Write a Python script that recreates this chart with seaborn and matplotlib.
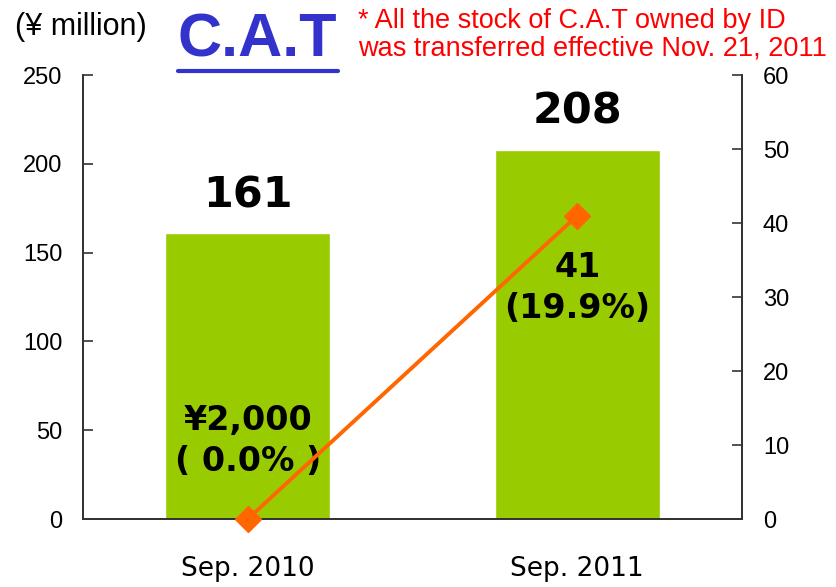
import matplotlib
matplotlib.use("Agg")
import matplotlib.pyplot as plt
import seaborn as sns
import pandas as pd
from matplotlib.lines import Line2D

# chart data
periods = ["Sep. 2010", "Sep. 2011"]
sales = [161, 208]              # left axis, ¥ million
income = [0, 41]                # right axis
income_labels = ["¥2,000\n( 0.0% )", "41\n(19.9%)"]
left_ticks = [0, 50, 100, 150, 200, 250]
right_ticks = [0, 10, 20, 30, 40, 50, 60]

df = pd.DataFrame({"period": periods, "sales": sales, "income": income})

sns.set_style("white")
narrow = ["Liberation Sans Narrow", "Liberation Sans", "DejaVu Sans"]
plt.rcParams["font.family"] = ["DejaVu Sans"]
plt.rcParams["text.color"] = "black"
plt.rcParams["xtick.color"] = "#333333"
plt.rcParams["ytick.color"] = "#333333"
plt.rcParams["xtick.labelcolor"] = "black"
plt.rcParams["ytick.labelcolor"] = "black"

fig = plt.figure(figsize=(8.36, 5.87), dpi=100)
ax = fig.add_axes([83 / 836, 1 - 519 / 587, 659 / 836, 444 / 587])

sns.barplot(data=df, x="period", y="sales", color="#99CC00", width=0.5,
            saturation=1, ax=ax)
ax.set_xlim(-0.5, 1.5)
ax.set_ylim(0, 250)
ax.set_yticks(left_ticks)
ax.set_xlabel("")
ax.set_ylabel("")

ax2 = ax.twinx()
ax2.plot(df["period"], df["income"], color="#FF6600", lw=2.8, marker="D",
         markersize=13, clip_on=False, zorder=5)
ax2.set_ylim(0, 60)
ax2.set_yticks(right_ticks)

for a in (ax, ax2):
    a.spines["top"].set_visible(False)
    for s in ("left", "right", "bottom"):
        a.spines[s].set_color("#333333")
        a.spines[s].set_linewidth(1.3)

for a in (ax, ax2):
    a.tick_params(axis="y", direction="in", length=7, width=1.2,
                  labelsize=17, pad=15)
for lab in ax.get_yticklabels() + ax2.get_yticklabels():
    lab.set_family(narrow)
ax.set_xticks([0, 1])
ax.set_xticklabels(periods)
ax.tick_params(axis="x", length=0, labelsize=19, pad=27)
ax.set_xticks([0.5], minor=True)
ax.tick_params(axis="x", which="minor", direction="in", length=10, width=1.2)

# value labels
for i, v in enumerate(sales):
    ax.annotate(str(v), (i, v), xytext=(0, 12), textcoords="offset points",
                ha="center", va="bottom", fontsize=31, fontweight="bold")
income_pos = [44, 130]
for i, t in enumerate(income_labels):
    ax.text(i, income_pos[i], t, ha="center", va="center", fontsize=24,
            fontweight="bold", linespacing=1.3)

# header texts
fig.text(15 / 836, 1 - 27 / 587, "(¥ million)", fontsize=22, family=narrow,
         va="center", ha="left")
cat = fig.text(178 / 836, 1 - 41 / 587, "C.A.T", fontsize=44, fontweight="bold",
               color="#3333CC", family=narrow, va="center", ha="left")
fig.text(358 / 836, 1 - 35 / 587,
         "* All the stock of C.A.T owned by ID\nwas transferred effective Nov. 21, 2011",
         fontsize=19.5, color="#FF0000", family=narrow, va="center", ha="left",
         linespacing=1.05)

fig.canvas.draw()
bb = cat.get_window_extent().transformed(fig.transFigure.inverted())
fig.add_artist(Line2D([bb.x0, bb.x1], [bb.y0 - 0.002, bb.y0 - 0.002],
                      color="#3333CC", lw=3, transform=fig.transFigure))

fig.savefig("out.png", dpi=100)
